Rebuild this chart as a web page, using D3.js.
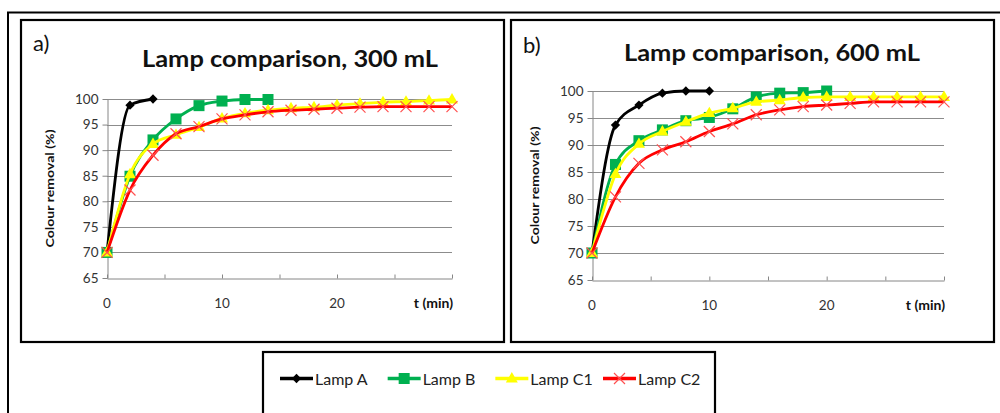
<!DOCTYPE html>
<html>
<head>
<meta charset="utf-8">
<script src="https://cdn.jsdelivr.net/npm/d3@7"></script>
<style>
  html, body { margin: 0; padding: 0; background: #fff; }
  svg { display: block; }
  text { font-family: Lato, "Open Sans", sans-serif; }
</style>
</head>
<body>
<svg id="chart" width="1000" height="413"></svg>
<script>
// Sampling times (min)
const timesA300 = [0, 2, 4];
const timesB300 = [0, 2, 4, 6, 8, 10, 12, 14];
const timesC300 = [0, 2, 4, 6, 8, 10, 12, 14, 16, 18, 20, 22, 24, 26, 28, 30];
const timesA600 = [0, 2, 4, 6, 8, 10];
const timesB600 = [0, 2, 4, 6, 8, 10, 12, 14, 16, 18, 20];
const timesC600 = [0, 2, 4, 6, 8, 10, 12, 14, 16, 18, 20, 22, 24, 26, 28, 30];

// Colour removal (%), 300 mL
const lampA300  = [70, 98.8, 100];
const lampB300  = [70, 84.9, 92.0, 96.1, 98.7, 99.6, 99.9, 99.9];
const lampC1300 = [70, 85.3, 91.2, 93.0, 94.5, 96.2, 97.2, 97.8, 98.2, 98.4, 98.8, 99.1, 99.4, 99.5, 99.7, 99.9];
const lampC2300 = [70, 82.2, 89.0, 93.2, 94.6, 96.1, 96.9, 97.5, 97.8, 98.0, 98.2, 98.4, 98.5, 98.5, 98.5, 98.5];

// Colour removal (%), 600 mL
const lampA600  = [70, 93.7, 97.4, 99.6, 100, 100];
const lampB600  = [70, 86.4, 90.8, 92.8, 94.5, 95.1, 96.7, 98.9, 99.6, 99.7, 100];
const lampC1600 = [70, 84.6, 90.2, 92.5, 94.3, 95.9, 96.8, 98.0, 98.3, 98.8, 98.9, 98.9, 98.9, 98.9, 98.9, 98.9];
const lampC2600 = [70, 80.4, 86.6, 89.1, 90.6, 92.5, 93.9, 95.6, 96.5, 97.1, 97.4, 97.7, 98.0, 98.0, 98.0, 98.0];

// Axis ticks and labels
const yTicks = [65, 70, 75, 80, 85, 90, 95, 100];
const xTicks = [0, 5, 10, 15, 20, 25, 30];
const xTickLabels = [0, 10, 20];
const seriesNames = ["Lamp A", "Lamp B", "Lamp C1", "Lamp C2"];
const titles = ["Lamp comparison, 300 mL", "Lamp comparison, 600 mL"];
const panelTags = ["a)", "b)"];

// Appearance of each series
const styles = {
  "Lamp A":  { color: "#000000", marker: "diamond" },
  "Lamp B":  { color: "#00B050", marker: "square" },
  "Lamp C1": { color: "#FFFF00", marker: "triangle" },
  "Lamp C2": { color: "#FF0000", marker: "cross" }
};

const svg = d3.select("#chart");

// Outer frame
svg.append("path")
  .attr("d", "M8,420 L8,12.5 L1010,12.5")
  .attr("fill", "none").attr("stroke", "#000").attr("stroke-width", 2);

function drawMarker(g, kind, x, y, color) {
  if (kind === "diamond") {
    g.append("path").attr("d", d3.symbol(d3.symbolDiamond2, 55)())
      .attr("transform", `translate(${x},${y})`).attr("fill", color);
  } else if (kind === "square") {
    g.append("rect").attr("x", x - 5.5).attr("y", y - 5.5).attr("width", 11).attr("height", 11)
      .attr("fill", color);
  } else if (kind === "triangle") {
    g.append("path").attr("d", d3.symbol(d3.symbolTriangle, 62)())
      .attr("transform", `translate(${x},${y + 0.5})`).attr("fill", color);
  } else if (kind === "cross") {
    g.append("path").attr("d", `M${x-5.5},${y-5.5}L${x+5.5},${y+5.5}M${x-5.5},${y+5.5}L${x+5.5},${y-5.5}`)
      .attr("stroke", "#FF5050").attr("stroke-width", 1.2).attr("fill", "none");
  }
}

const panels = [
  { frame: [21, 20, 504, 342], plot: [107, 99, 452, 278], title: [290, 67], tag: [33, 51], yTitleX: 54,
    times: [timesA300, timesB300, timesC300, timesC300],
    values: [lampA300, lampB300, lampC1300, lampC2300] },
  { frame: [511, 20, 994, 342], plot: [592, 91, 944, 280], title: [772, 61], tag: [523, 53], yTitleX: 539,
    times: [timesA600, timesB600, timesC600, timesC600],
    values: [lampA600, lampB600, lampC1600, lampC2600] }
];

panels.forEach((p, pi) => {
  const [fx0, fy0, fx1, fy1] = p.frame;
  const [px0, py0, px1, py1] = p.plot;
  const g = svg.append("g");

  g.append("rect").attr("x", fx0).attr("y", fy0).attr("width", fx1 - fx0).attr("height", fy1 - fy0)
    .attr("fill", "#fff").attr("stroke", "#000").attr("stroke-width", 2.2);

  const x = d3.scaleLinear().domain([0, 30]).range([px0, px1]);
  const y = d3.scaleLinear().domain([65, 100]).range([py1, py0]);

  // Gridlines
  g.append("g").selectAll("line").data(yTicks.filter(v => v > 65)).join("line")
    .attr("x1", px0).attr("x2", px1)
    .attr("y1", d => Math.round(y(d)) + 0.5).attr("y2", d => Math.round(y(d)) + 0.5)
    .attr("stroke", "#8c8c8c").attr("stroke-width", 1);

  // Y axis
  const yAxis = g.append("g").attr("transform", `translate(${Math.round(px0) + 0.5},0)`)
    .call(d3.axisLeft(y).tickValues(yTicks).tickSize(5).tickPadding(4).tickSizeOuter(0));
  yAxis.select(".domain").attr("stroke", "#868686");
  yAxis.selectAll(".tick line").attr("stroke", "#868686");
  yAxis.selectAll(".tick text").attr("font-size", 13.5).attr("fill", "#333").attr("font-family", "Lato");

  // X axis
  const xAxis = g.append("g").attr("transform", `translate(0,${Math.round(py1) + 0.5})`)
    .call(d3.axisTop(x).tickValues(xTicks).tickSize(4).tickSizeOuter(0).tickFormat(""));
  xAxis.select(".domain").attr("stroke", "#868686");
  xAxis.selectAll(".tick line").attr("stroke", "#868686");
  g.append("g").selectAll("text").data(xTickLabels).join("text")
    .attr("x", d => x(d)).attr("y", py1 + 30)
    .attr("text-anchor", "middle").attr("font-size", 13.5).attr("fill", "#333")
    .text(d => d);
  g.append("text").attr("x", px1 + 1).attr("y", py1 + 30)
    .attr("text-anchor", "end").attr("font-size", 14).attr("font-weight", "bold").attr("fill", "#111")
    .text("t (min)");

  // Axis title
  g.append("text")
    .attr("transform", `translate(${p.yTitleX},${(py0 + py1) / 2}) rotate(-90)`)
    .attr("text-anchor", "middle").attr("font-size", 12).attr("font-weight", "bold").attr("fill", "#111")
    .attr("textLength", 118).attr("lengthAdjust", "spacingAndGlyphs")
    .text("Colour removal (%)");

  // Title and tag
  g.append("text").attr("x", p.title[0]).attr("y", p.title[1])
    .attr("text-anchor", "middle").attr("font-size", 22).attr("font-weight", "bold").attr("fill", "#111")
    .attr("textLength", 296).attr("lengthAdjust", "spacingAndGlyphs")
    .text(titles[pi]);
  g.append("text").attr("x", p.tag[0]).attr("y", p.tag[1])
    .attr("font-size", 22).attr("fill", "#111").text(panelTags[pi]);

  // Series
  seriesNames.forEach((name, si) => {
    const st = styles[name];
    const pts = p.times[si].map((t, i) => [t, p.values[si][i]]);
    const line = d3.line().x(d => x(d[0])).y(d => y(d[1])).curve(d3.curveMonotoneX);
    const sg = g.append("g");
    sg.append("path").attr("d", line(pts)).attr("fill", "none")
      .attr("stroke", st.color).attr("stroke-width", 2.8);
    pts.forEach(d => drawMarker(sg, st.marker, x(d[0]), y(d[1]), st.color));
  });
});

// Legend
const lg = svg.append("g");
lg.append("rect").attr("x", 263).attr("y", 352).attr("width", 452).attr("height", 80)
  .attr("fill", "#fff").attr("stroke", "#000").attr("stroke-width", 2.2);
const legendX = d3.scalePoint().domain(seriesNames).range([280, 603]);
seriesNames.forEach(name => {
  const st = styles[name];
  const lx = legendX(name);
  const ly = 378.5;
  lg.append("line").attr("x1", lx).attr("x2", lx + 33).attr("y1", ly).attr("y2", ly)
    .attr("stroke", st.color).attr("stroke-width", 3.5);
  drawMarker(lg, st.marker, lx + 16.5, ly, st.color);
  lg.append("text").attr("x", lx + 35).attr("y", ly + 6)
    .attr("font-size", 16).attr("fill", "#222").text(name);
});
</script>
</body>
</html>
